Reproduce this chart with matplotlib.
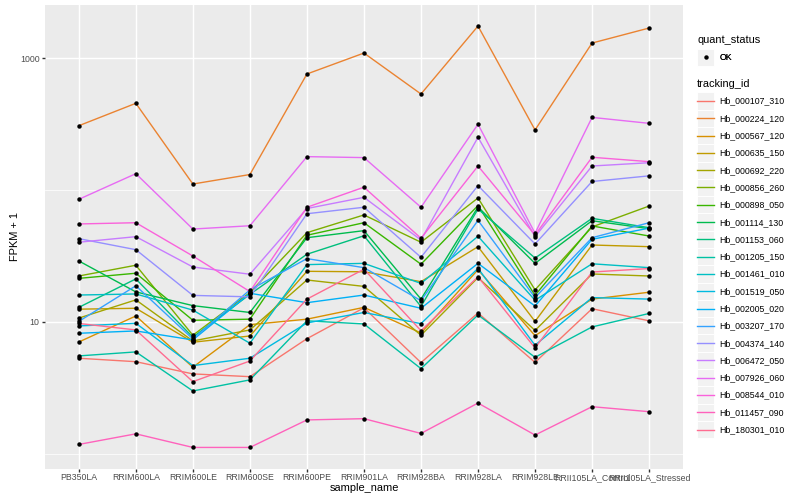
import matplotlib
matplotlib.use("Agg")
import matplotlib.pyplot as plt
from matplotlib.lines import Line2D
from matplotlib.patches import Rectangle
from matplotlib.legend_handler import HandlerBase
from matplotlib.ticker import FixedLocator, FixedFormatter, NullFormatter
import numpy as np

plt.rcParams['font.family'] = ['Liberation Sans', 'DejaVu Sans']

samples = ["PB350LA", "RRIM600LA", "RRIM600LE", "RRIM600SE", "RRIM600PE",
           "RRIM901LA", "RRIM928BA", "RRIM928LA", "RRIM928LE",
           "RRII105LA_Control", "RRII105LA_Stressed"]

# FPKM + 1
hb_000107_310 = [5.31, 5.00, 4.04, 3.85, 7.47, 12.8, 4.92, 11.7, 4.94, 12.6, 10.2]
hb_000224_120 = [307, 454, 111, 131, 757, 1091, 534, 1747, 285, 1299, 1688]
hb_000567_120 = [7.05, 11.1, 4.54, 9.54, 10.5, 12.9, 8.25, 24.9, 7.87, 14.9, 16.8]
hb_000635_150 = [12.5, 12.7, 7.02, 7.83, 24.2, 24.0, 20.2, 37.2, 10.1, 38.3, 37.2]
hb_000692_220 = [10.7, 14.7, 7.18, 8.70, 20.8, 18.6, 7.93, 21.7, 8.62, 23.1, 22.3]
hb_000856_260 = [22.3, 26.9, 7.93, 16.7, 47.5, 64.7, 40.2, 87.0, 17.5, 52.5, 75.6]
hb_000898_050 = [21.4, 23.4, 10.3, 10.5, 45.4, 56.5, 27.4, 76.3, 15.9, 53.4, 44.8]
hb_001114_130 = [29.0, 16.9, 13.3, 11.8, 43.5, 49.2, 14.9, 74.3, 27.8, 58.5, 50.9]
hb_001153_060 = [12.9, 21.2, 7.66, 16.2, 32.6, 45.0, 13.1, 71.8, 30.5, 61.0, 51.8]
hb_001205_150 = [5.53, 5.93, 3.00, 3.64, 10.2, 9.66, 4.43, 11.3, 5.40, 9.17, 11.6]
hb_001461_010 = [16.0, 16.3, 12.3, 6.90, 27.2, 27.8, 19.6, 44.6, 14.6, 27.6, 25.8]
hb_001519_050 = [9.33, 9.77, 4.67, 5.31, 9.83, 11.8, 9.71, 25.5, 6.66, 15.3, 14.9]
hb_002005_020 = [8.21, 8.55, 7.31, 16.5, 14.0, 16.0, 12.7, 27.8, 13.2, 42.3, 51.4]
hb_003207_170 = [10.1, 18.8, 7.43, 17.5, 30.2, 25.8, 14.5, 58.9, 15.3, 43.5, 56.5]
hb_004374_140 = [42.8, 35.3, 15.9, 15.5, 66.1, 74.0, 30.9, 108, 39.0, 116, 128]
hb_006472_050 = [40.2, 44.3, 26.1, 23.0, 72.4, 88.0, 41.8, 251, 44.3, 152, 161]
hb_007926_060 = [85.0, 133, 50.6, 53.6, 179, 176, 74.0, 315, 47.0, 355, 320]
hb_008544_010 = [55.3, 56.5, 31.6, 17.0, 74.0, 105, 43.1, 152, 45.6, 177, 164]
hb_011457_090 = [1.18, 1.42, 1.12, 1.12, 1.81, 1.85, 1.43, 2.43, 1.39, 2.28, 2.09]
hb_180301_010 = [9.74, 8.70, 3.53, 5.06, 14.9, 25.1, 8.59, 22.0, 6.35, 23.9, 25.4]

tracking_ids = ["Hb_000107_310", "Hb_000224_120", "Hb_000567_120", "Hb_000635_150",
                "Hb_000692_220", "Hb_000856_260", "Hb_000898_050", "Hb_001114_130",
                "Hb_001153_060", "Hb_001205_150", "Hb_001461_010", "Hb_001519_050",
                "Hb_002005_020", "Hb_003207_170", "Hb_004374_140", "Hb_006472_050",
                "Hb_007926_060", "Hb_008544_010", "Hb_011457_090", "Hb_180301_010"]

series = [hb_000107_310, hb_000224_120, hb_000567_120, hb_000635_150, hb_000692_220,
          hb_000856_260, hb_000898_050, hb_001114_130, hb_001153_060, hb_001205_150,
          hb_001461_010, hb_001519_050, hb_002005_020, hb_003207_170, hb_004374_140,
          hb_006472_050, hb_007926_060, hb_008544_010, hb_011457_090, hb_180301_010]

# ggplot default hue palette, 20 levels
colors = ["#F8766D", "#EA8331", "#D89000", "#C09B00", "#A3A500", "#7CAE00", "#39B600",
          "#00BB4E", "#00BF7D", "#00C1A3", "#00BFC4", "#00BAE0", "#00B0F6", "#35A2FF",
          "#9590FF", "#C77CFF", "#E76BF3", "#FA62DB", "#FF62BC", "#FF6C91"]


class KeyHandler(HandlerBase):
    # grey ggplot-like key box with the line / point centred in it
    def create_artists(self, legend, orig_handle, xdescent, ydescent,
                       width, height, fontsize, trans):
        x0, y0 = -xdescent, -ydescent
        box = Rectangle((x0, y0), width, height, fc='#F2F2F2', ec='white',
                        lw=0.7, transform=trans)
        cy = y0 + height / 2
        if orig_handle.get_linestyle() in ('None', ''):
            mark = Line2D([x0 + width / 2], [cy], marker='o', ls='',
                          color=orig_handle.get_color(), ms=3.2, mew=0,
                          transform=trans)
        else:
            mark = Line2D([x0, x0 + width], [cy, cy], color=orig_handle.get_color(),
                          lw=1.0, transform=trans)
        return [box, mark]


W, H = 800, 500
fig = plt.figure(figsize=(8, 5), dpi=100)
left, right, top, bottom = 44.6, 683.3, 5, 468.5
ax = fig.add_axes([left / W, 1 - bottom / H, (right - left) / W, (bottom - top) / H])
ax.set_facecolor("#EBEBEB")
for s in ax.spines.values():
    s.set_visible(False)

x = np.arange(len(samples))
for vals, col in zip(series, colors):
    ax.plot(x, vals, color=col, lw=1.0, zorder=2)
for vals in series:
    ax.plot(x, vals, 'o', color='black', ms=3.2, mew=0, zorder=3)

ax.set_yscale('log')
allv = np.log10(np.concatenate([np.array(v, float) for v in series]))
lo, hi = allv.min(), allv.max()
pad = 0.05 * (hi - lo)
ax.set_ylim(10 ** (lo - pad), 10 ** (hi + pad))
ax.set_xlim(-0.6, len(samples) - 0.4)

ax.yaxis.set_major_locator(FixedLocator([10, 1000]))
ax.yaxis.set_major_formatter(FixedFormatter(["10", "1000"]))
ax.yaxis.set_minor_locator(FixedLocator([1, 100]))
ax.yaxis.set_minor_formatter(NullFormatter())
ax.set_xticks(x)
ax.set_xticklabels(samples)

ax.grid(which='major', color='white', lw=1.02, zorder=0)
ax.grid(which='minor', axis='y', color='white', lw=0.51, zorder=0)
ax.set_axisbelow(True)
ax.tick_params(which='major', length=2.0, width=1.0, color='#333333',
               labelsize=6.34, labelcolor='#4D4D4D', pad=1.6)
ax.tick_params(which='minor', length=0)

ax.set_xlabel("sample_name", fontsize=7.92, labelpad=0.3)
ax.set_ylabel("FPKM + 1", fontsize=7.92, labelpad=0)

# legends (titles placed as plain text, keys via legend)
leg_kw = dict(frameon=False, fontsize=6.34, handlelength=1.96, handleheight=2.644,
              handletextpad=0.62, labelspacing=0, borderpad=0, borderaxespad=0,
              loc='upper left', bbox_transform=fig.transFigure,
              handler_map={Line2D: KeyHandler()})

fig.text(697 / W, 1 - 40 / H, "quant_status", fontsize=7.92, va='center', ha='left')
h1 = [Line2D([], [], marker='o', color='black', ls='')]
leg1 = fig.legend(h1, ["OK"], bbox_to_anchor=(697 / W, 1 - 48.7 / H), **leg_kw)

fig.text(697 / W, 1 - 84.3 / H, "tracking_id", fontsize=7.92, va='center', ha='left')
h2 = [Line2D([], [], color=c) for c in colors]
leg2 = fig.legend(h2, tracking_ids, bbox_to_anchor=(697 / W, 1 - 92.4 / H), **leg_kw)
fig.add_artist(leg1)

fig.savefig("out.png", dpi=100)
